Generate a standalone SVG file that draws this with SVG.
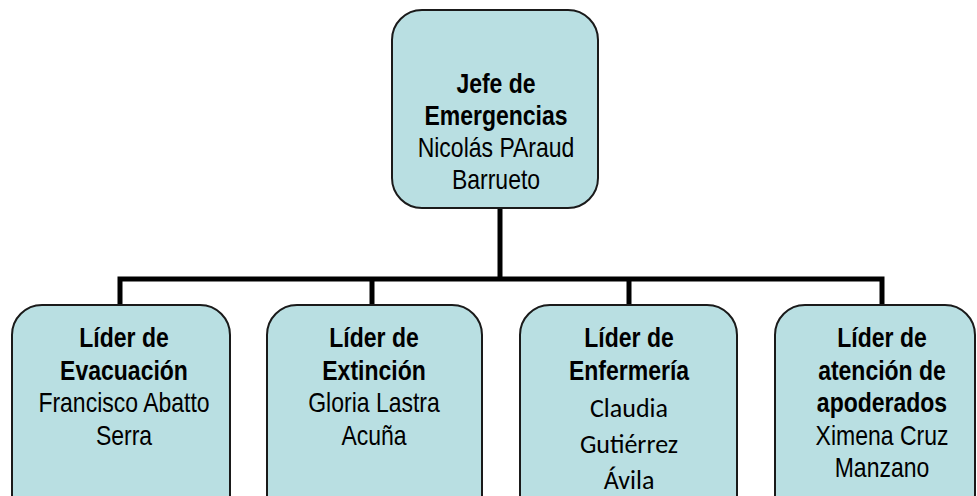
<svg xmlns="http://www.w3.org/2000/svg" width="977" height="496" viewBox="0 0 977 496">
<style>
.box{fill:#b9dfe2;stroke:#1a1a1a;stroke-width:2}
.t{font-family:"Liberation Sans",Arial,sans-serif;font-size:23px;fill:#000;text-anchor:middle}
.b{font-weight:bold}
.c{font-family:Carlito,Lato,"Open Sans",sans-serif;font-size:26px;fill:#000;text-anchor:middle}
.conn{stroke:#000;stroke-width:5;fill:none;stroke-linejoin:miter;stroke-linecap:butt}
</style>
<g id="connectors">
<path class="conn" d="M500,208 V279"/>
<path class="conn" d="M120,305 V279 H882 V305"/>
<path class="conn" d="M372,279 V305"/>
<path class="conn" d="M629,279 V305"/>
</g>
<g id="jefe">
<rect class="box" x="392" y="10" width="206" height="198" rx="30"/>
<text class="t" transform="translate(496,93) scale(1,1.2)"><tspan class="b" x="0" y="0">Jefe de</tspan><tspan class="b" x="0" dy="26.7">Emergencias</tspan><tspan x="0" dy="26.7">Nicolás PAraud</tspan><tspan x="0" dy="26.7">Barrueto</tspan></text>
</g>
<g id="evacuacion">
<rect class="box" x="12" y="305" width="218" height="220" rx="30"/>
<text class="t" transform="translate(124,347) scale(1,1.2)"><tspan class="b" x="0" y="0">Líder de</tspan><tspan class="b" x="0" dy="27.1">Evacuación</tspan><tspan x="0" dy="27.1">Francisco Abatto</tspan><tspan x="0" dy="27.1">Serra</tspan></text>
</g>
<g id="extincion">
<rect class="box" x="267" y="305" width="215" height="220" rx="30"/>
<text class="t" transform="translate(374,347) scale(1,1.2)"><tspan class="b" x="0" y="0">Líder de</tspan><tspan class="b" x="0" dy="27.1">Extinción</tspan><tspan x="0" dy="27.1">Gloria Lastra</tspan><tspan x="0" dy="27.1">Acuña</tspan></text>
</g>
<g id="enfermeria">
<rect class="box" x="520" y="305" width="217" height="220" rx="30"/>
<text class="t" transform="translate(629,347) scale(1,1.2)"><tspan class="b" x="0" y="0">Líder de</tspan><tspan class="b" x="0" dy="27.1">Enfermería</tspan></text>
<text class="c"><tspan x="629" y="417">Claudia</tspan><tspan x="629" y="453">Gutiérrez</tspan><tspan x="629" y="489">Ávila</tspan></text>
</g>
<g id="apoderados">
<rect class="box" x="775" y="305" width="200" height="220" rx="30"/>
<text class="t" transform="translate(882,347) scale(1,1.2)"><tspan class="b" x="0" y="0">Líder de</tspan><tspan class="b" x="0" dy="27.1">atención de</tspan><tspan class="b" x="0" dy="27.1">apoderados</tspan><tspan x="0" dy="27.1">Ximena Cruz</tspan><tspan x="0" dy="27.1">Manzano</tspan></text>
</g>
</svg>
